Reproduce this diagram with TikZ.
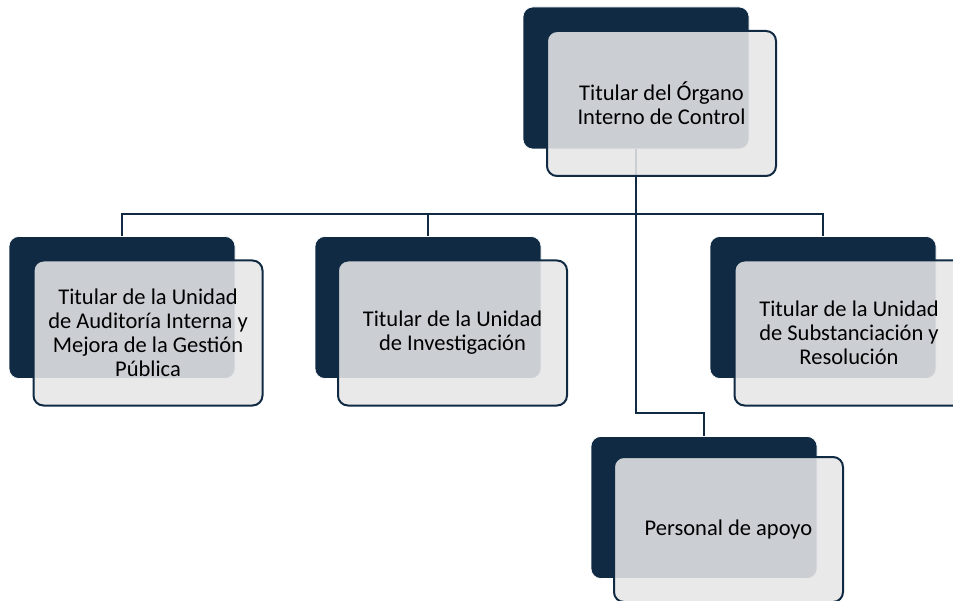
\documentclass[tikz,border=0pt]{standalone}
\usepackage{fontspec}
\setmainfont{Carlito}
\usetikzlibrary{positioning}
\definecolor{navy}{RGB}{16,42,67}
\definecolor{paper}{RGB}{230,230,231}

\begin{document}
\begin{tikzpicture}[x=1pt, y=-1pt,
  back/.style={rectangle, rounded corners=10pt, fill=navy, draw=white, line width=0.6pt,
    minimum width=226pt, minimum height=142pt, inner sep=0pt},
  front/.style={rectangle, rounded corners=10pt, fill=paper, fill opacity=0.88,
    text opacity=1, draw=navy, line width=2pt, minimum width=229pt, minimum height=145pt,
    align=center, text=black, font=\fontsize{22.5}{24}\selectfont, inner sep=0pt},
  link/.style={draw=navy, line width=2pt}]

  \useasboundingbox (0,0) rectangle (953,601);

  % Dark backs

  \node[back] (tocB) at (636,78) {};
  \node[back] (auB) at (122,307.5) {};
  \node[back] (inB) at (428,307.5) {};
  \node[back] (suB) at (823,307.5) {};
  \node[back] (paB) at (704,507.5) {};

  % Connectors

  \coordinate (bus) at (636,214);
  \draw[link] (auB.north) |- (bus) -| (suB.north);
  \draw[link] (inB.north) -- (inB.north |- bus);
  \draw[link] (tocB.south) -- ++(0,264) -| (paB.north);

  % Front cards

  \node[front] (toc) at (661.5,103.5) {Titular del Órgano\\Interno de Control};
  \node[front] (au) at (148,333) {Titular de la Unidad\\de Auditoría Interna y\\Mejora de la Gestión\\Pública};
  \node[front] (in) at (452.5,333) {Titular de la Unidad\\de Investigación};
  \node[front] (su) at (849,333) {Titular de la Unidad\\de Substanciación y\\Resolución};
  \node[front] (pa) at (728.5,529.5) {Personal de apoyo};

\end{tikzpicture}
\end{document}
